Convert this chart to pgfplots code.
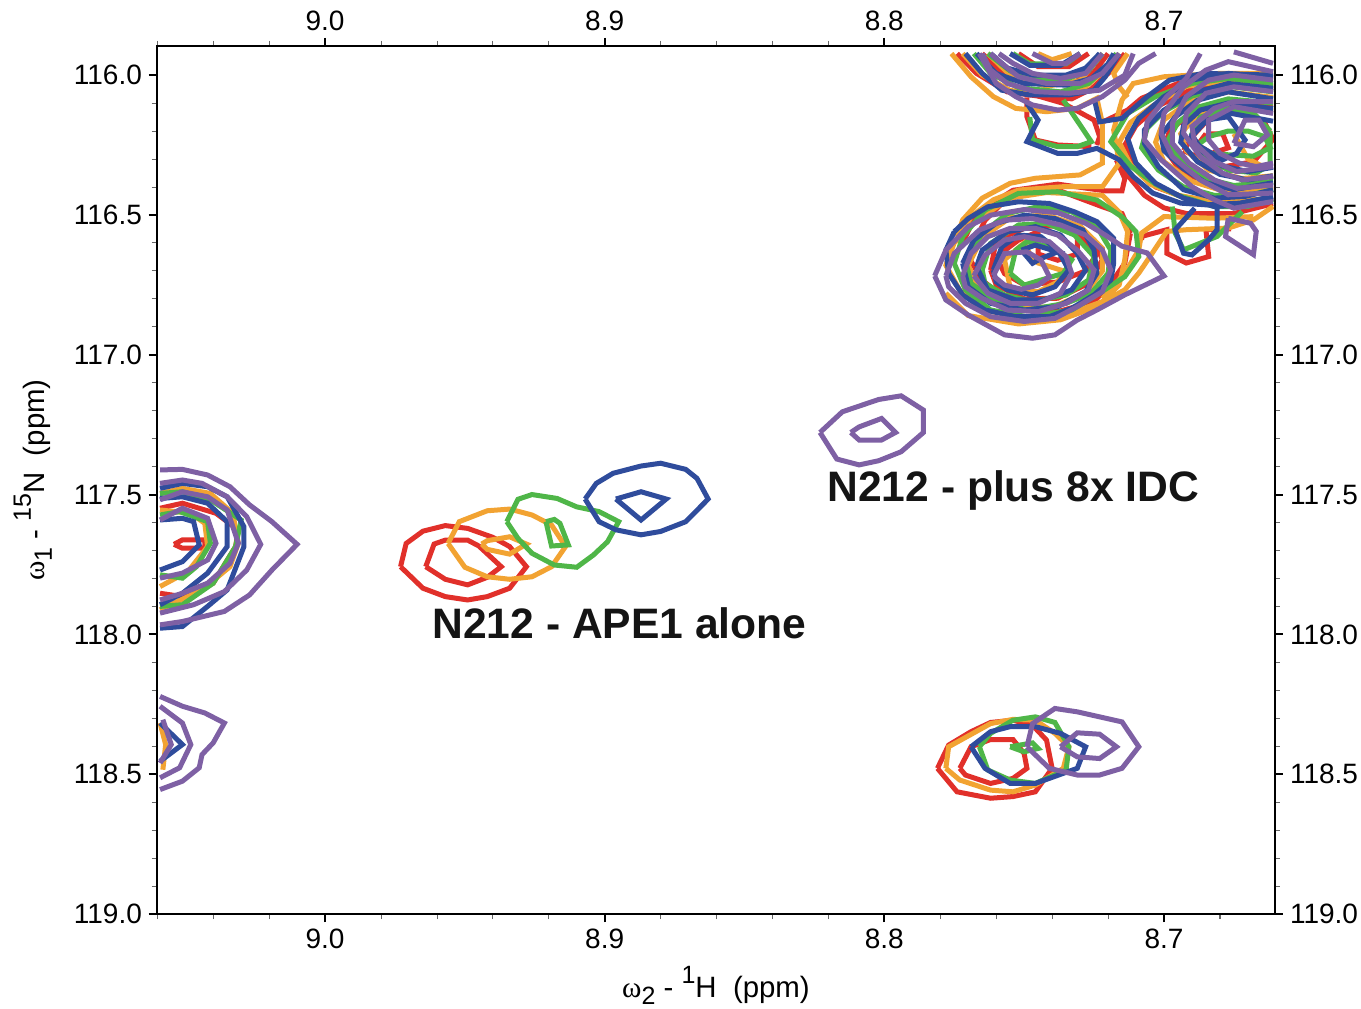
\documentclass[border=0pt]{standalone}
\usepackage{fontspec}
\setmainfont{Liberation Sans}
\newfontfamily\lserif{Liberation Serif}
\usepackage{pgfplots}
\pgfplotsset{compat=1.18}
\definecolor{cR}{HTML}{E1302A}
\definecolor{cO}{HTML}{F2A332}
\definecolor{cG}{HTML}{4FB648}
\definecolor{cB}{HTML}{2F4C9C}
\definecolor{cP}{HTML}{7E60A4}
\newcommand{\subs}[1]{\raisebox{-3.5pt}{\fontsize{12.5}{13}\selectfont #1}}
\newcommand{\sups}[1]{\raisebox{7pt}{\fontsize{12.5}{13}\selectfont #1}}
\pgfplotsset{
  nmr/.style={
    scale only axis, width=559pt, height=434pt,
    at={(0,0)}, anchor=south west,
    x dir=reverse, y dir=reverse,
    xmin=8.6603, xmax=9.0601, ymin=115.896, ymax=119,
    xtick={8.7,8.8,8.9,9.0}, ytick={116,116.5,117,117.5,118,118.5,119},
    minor xtick={8.66,8.68,8.70,8.72,8.74,8.76,8.78,8.80,8.82,8.84,8.86,8.88,8.90,8.92,8.94,8.96,8.98,9.00,9.02,9.04,9.06},
    minor ytick={116,116.1,116.2,116.3,116.4,116.6,116.7,116.8,116.9,117.1,117.2,117.3,117.4,117.6,117.7,117.8,117.9,118.1,118.2,118.3,118.4,118.6,118.7,118.8,118.9},
    tick align=outside,
    major tick length=4pt, minor tick length=2.5pt,
    major tick style={black,line width=1pt},
    minor tick style={black!60,line width=0.4pt},
    axis line style={black,line width=1.1pt},
    tick label style={font=\fontsize{14}{16}\selectfont},
    /pgf/number format/assume math mode=true,
    /pgf/number format/fixed, /pgf/number format/fixed zerofill, /pgf/number format/precision=1,
    every axis plot/.append style={line width=2.5pt,no markers,line join=miter,miter limit=6},
  }
}
\begin{document}
\begin{tikzpicture}
\path[use as bounding box] (-78.5pt,-47pt) rectangle (602.0pt,457pt);
\begin{axis}[nmr,
  xlabel={{\lserif ω}\subs{2} - \sups{1}H\ \ (ppm)},
  ylabel={{\lserif ω}\subs{1} - \sups{15}N\ \ (ppm)},
  label style={font=\fontsize{14.7}{16}\selectfont},
  xlabel style={at={(axis description cs:0.5,0)},anchor=base,yshift=-41.5pt},
  ylabel style={at={(axis description cs:0,0.5)},anchor=base,yshift=56pt},
]
% ---------- RED
\addplot[cR] coordinates {(8.772,116.600)(8.767,116.495)(8.754,116.412)(8.738,116.390)(8.721,116.414)(8.715,116.414)(8.714,116.370)(8.717,116.304)(8.712,116.37)(8.707,116.43)(8.700,116.475)(8.692,116.495)(8.675,116.495)(8.661,116.46)};
\addplot[cR] coordinates {(8.712,116.566)(8.714,116.673)(8.719,116.745)(8.725,116.810)(8.738,116.846)(8.752,116.840)(8.765,116.733)(8.770,116.649)(8.764,116.519)(8.755,116.429)(8.738,116.411)(8.722,116.471)(8.715,116.495)(8.712,116.566)};
\addplot[cR] coordinates {(8.762,116.697)(8.760,116.590)(8.748,116.540)(8.735,116.540)(8.725,116.590)(8.722,116.660)(8.727,116.745)(8.738,116.798)(8.750,116.800)(8.760,116.750)(8.762,116.697)};
\addplot[cR] coordinates {(8.760,116.650)(8.752,116.590)(8.745,116.560)(8.745,116.640)(8.738,116.662)(8.731,116.640)(8.731,116.566)(8.724,116.640)(8.728,116.700)(8.738,116.740)(8.750,116.750)(8.757,116.710)(8.760,116.650)};
\addplot[cR] coordinates {(8.708,116.590)(8.708,116.577)(8.699,116.553)(8.699,116.637)(8.692,116.672)(8.684,116.649)(8.685,116.553)(8.676,116.55)};
\addplot[cR] coordinates {(8.749,116.08)(8.749,116.149)(8.746,116.232)(8.738,116.250)(8.726,116.256)};
\addplot[cR] coordinates {(8.724,116.25)(8.723,116.22)(8.725,116.161)(8.736,116.101)(8.745,116.075)};
\addplot[cR] coordinates {(8.723,116.173)(8.713,116.125)(8.708,116.083)(8.695,116.03)(8.68,116.00)(8.661,116.01)};
\addplot[cR] coordinates {(8.774,115.923)(8.767,115.994)(8.756,116.060)(8.745,116.075)(8.733,116.085)(8.726,116.050)(8.719,115.985)(8.714,115.923)};
\addplot[cR] coordinates {(8.765,115.923)(8.757,116.000)(8.745,116.030)(8.733,116.030)(8.725,115.990)(8.720,115.923)};
\addplot[cR] coordinates {(8.752,115.923)(8.745,115.970)(8.734,115.970)(8.727,115.923)};
\addplot[cR] coordinates {(8.661,116.05)(8.677,116.03)(8.690,116.05)(8.702,116.11)(8.710,116.18)(8.714,116.25)(8.710,116.33)(8.703,116.40)(8.692,116.44)(8.680,116.46)(8.661,116.44)};
\addplot[cR] coordinates {(8.661,116.11)(8.677,116.10)(8.690,116.13)(8.698,116.20)(8.700,116.26)(8.695,116.33)(8.685,116.39)(8.672,116.41)(8.661,116.40)};
\addplot[cR] coordinates {(8.693,116.27)(8.689,116.21)(8.682,116.135)(8.672,116.125)(8.664,116.17)(8.661,116.23)(8.668,116.31)(8.680,116.33)(8.693,116.27)};
\addplot[cR] coordinates {(8.685,116.21)(8.679,116.21)(8.677,116.26)(8.683,116.28)(8.688,116.25)(8.685,116.21)};
\addplot[cR] coordinates {(9.059,117.549)(9.051,117.531)(9.039,117.567)(9.031,117.627)(9.032,117.686)(9.040,117.817)(9.051,117.865)(9.059,117.853)};
\addplot[cR] coordinates {(9.054,117.678)(9.051,117.662)(9.043,117.662)(9.043,117.692)(9.051,117.692)(9.054,117.678)};
\addplot[cR] coordinates {(8.973,117.758)(8.971,117.675)(8.965,117.631)(8.957,117.611)(8.949,117.621)(8.940,117.653)(8.934,117.686)(8.928,117.758)(8.934,117.835)(8.942,117.865)(8.949,117.877)(8.957,117.865)(8.965,117.835)(8.973,117.758)};
\addplot[cR] coordinates {(8.964,117.758)(8.961,117.677)(8.957,117.663)(8.949,117.663)(8.945,117.684)(8.937,117.758)(8.942,117.796)(8.949,117.823)(8.957,117.803)(8.964,117.758)};
\addplot[cR] coordinates {(8.781,118.479)(8.777,118.396)(8.769,118.348)(8.762,118.315)(8.754,118.307)(8.747,118.325)(8.742,118.378)(8.740,118.479)(8.746,118.563)(8.754,118.580)(8.762,118.586)(8.774,118.563)(8.781,118.479)};
\addplot[cR] coordinates {(8.773,118.479)(8.769,118.402)(8.762,118.376)(8.754,118.376)(8.750,118.426)(8.749,118.479)(8.754,118.515)(8.762,118.533)(8.771,118.503)(8.773,118.479)};
% ---------- ORANGE
\addplot[cO] coordinates {(8.776,115.923)(8.769,116.006)(8.761,116.077)(8.753,116.119)(8.742,116.131)(8.731,116.119)(8.724,116.083)(8.722,116.173)(8.722,116.315)(8.730,116.357)(8.746,116.369)(8.755,116.387)(8.765,116.440)(8.772,116.518)(8.774,116.577)};
\addplot[cO] coordinates {(8.774,116.60)(8.769,116.506)(8.761,116.446)(8.752,116.411)(8.736,116.399)(8.722,116.399)(8.716,116.315)(8.718,116.196)(8.715,116.089)(8.711,116.030)(8.700,116.006)(8.680,115.994)(8.661,115.994)};
\addplot[cO] coordinates {(8.661,116.470)(8.668,116.518)(8.677,116.547)(8.692,116.553)(8.699,116.559)(8.705,116.649)(8.709,116.708)(8.714,116.768)(8.727,116.839)(8.737,116.875)(8.752,116.890)(8.770,116.860)(8.778,116.78)};
\addplot[cO] coordinates {(8.668,116.506)(8.682,116.512)(8.700,116.506)(8.708,116.565)(8.709,116.625)(8.714,116.708)(8.722,116.80)};
\addplot[cO] coordinates {(8.775,116.60)(8.767,116.52)(8.755,116.44)(8.742,116.42)(8.722,116.43)(8.716,116.49)(8.713,116.56)(8.714,116.66)(8.716,116.75)(8.722,116.81)(8.733,116.85)(8.748,116.87)(8.765,116.84)(8.773,116.77)(8.778,116.68)(8.775,116.60)};
\addplot[cO] coordinates {(8.770,116.68)(8.765,116.58)(8.755,116.51)(8.742,116.50)(8.730,116.54)(8.722,116.62)(8.722,116.70)(8.728,116.78)(8.740,116.83)(8.752,116.83)(8.765,116.79)(8.770,116.68)};
\addplot[cO] coordinates {(8.757,116.66)(8.750,116.60)(8.748,116.64)(8.745,116.672)(8.736,116.70)(8.738,116.74)(8.745,116.775)(8.755,116.76)(8.757,116.66)};
\addplot[cO] coordinates {(8.772,115.923)(8.765,116.000)(8.755,116.055)(8.741,116.07)(8.729,116.05)(8.722,115.99)(8.716,115.923)};
\addplot[cO] coordinates {(8.713,115.923)(8.718,115.994)(8.716,116.042)(8.713,116.08)};
\addplot[cO] coordinates {(8.763,115.923)(8.755,116.000)(8.742,116.040)(8.730,116.020)(8.722,115.923)};
\addplot[cO] coordinates {(8.745,115.923)(8.740,115.945)(8.733,115.923)};
\addplot[cO] coordinates {(8.661,116.04)(8.677,116.02)(8.692,116.04)(8.704,116.11)(8.712,116.17)(8.716,116.24)(8.712,116.32)(8.705,116.39)(8.695,116.43)(8.680,116.455)(8.661,116.44)};
\addplot[cO] coordinates {(8.661,116.08)(8.677,116.06)(8.690,116.09)(8.700,116.16)(8.703,116.24)(8.700,116.31)(8.690,116.38)(8.677,116.42)(8.661,116.40)};
\addplot[cO] coordinates {(8.661,116.13)(8.677,116.11)(8.688,116.14)(8.694,116.21)(8.692,116.27)(8.684,116.34)(8.672,116.37)(8.661,116.36)};
\addplot[cO] coordinates {(8.675,116.21)(8.670,116.30)(8.664,116.33)};
\addplot[cO] coordinates {(9.059,117.829)(9.049,117.775)(9.042,117.686)(9.043,117.603)(9.048,117.567)(9.059,117.555)};
\addplot[cO] coordinates {(9.059,117.912)(9.044,117.841)(9.034,117.758)(9.031,117.674)(9.033,117.567)(9.041,117.496)(9.051,117.478)(9.059,117.496)};
\addplot[cO] coordinates {(9.059,118.317)(9.057,118.394)(9.058,118.484)};
\addplot[cO] coordinates {(8.956,117.675)(8.952,117.597)(8.942,117.558)(8.934,117.552)(8.926,117.573)(8.919,117.609)(8.914,117.686)(8.919,117.758)(8.926,117.794)(8.934,117.803)(8.942,117.794)(8.950,117.760)(8.956,117.675)};
\addplot[cO] coordinates {(8.944,117.677)(8.942,117.665)(8.934,117.651)(8.928,117.677)(8.934,117.713)(8.942,117.696)(8.944,117.677)};
\addplot[cO] coordinates {(8.778,118.479)(8.777,118.402)(8.762,118.319)(8.754,118.304)(8.746,118.307)(8.739,118.354)(8.734,118.402)(8.736,118.479)(8.746,118.539)(8.754,118.563)(8.762,118.557)(8.773,118.521)(8.778,118.479)};
% ---------- GREEN
\addplot[cG] coordinates {(8.772,116.578)(8.764,116.483)(8.752,116.423)(8.738,116.417)(8.724,116.447)(8.715,116.507)(8.710,116.560)(8.709,116.649)(8.714,116.721)(8.724,116.786)(8.733,116.840)(8.749,116.864)(8.762,116.840)(8.771,116.768)(8.775,116.673)(8.772,116.578)};
\addplot[cG] coordinates {(8.771,116.661)(8.765,116.566)(8.756,116.495)(8.745,116.471)(8.733,116.489)(8.724,116.542)(8.719,116.626)(8.720,116.709)(8.726,116.780)(8.735,116.816)(8.749,116.840)(8.760,116.810)(8.769,116.745)(8.771,116.661)};
\addplot[cG] coordinates {(8.765,116.697)(8.762,116.602)(8.752,116.536)(8.742,116.530)(8.732,116.572)(8.725,116.649)(8.727,116.733)(8.735,116.786)(8.747,116.810)(8.757,116.786)(8.764,116.745)(8.765,116.697)};
\addplot[cG] coordinates {(8.755,116.709)(8.753,116.626)(8.749,116.596)(8.741,116.614)(8.733,116.661)(8.736,116.709)(8.740,116.721)(8.750,116.751)(8.755,116.709)};
\addplot[cG] coordinates {(8.697,116.470)(8.696,116.565)(8.693,116.625)(8.681,116.577)(8.672,116.488)};
\addplot[cG] coordinates {(8.748,116.15)(8.747,116.232)(8.738,116.256)(8.731,116.256)(8.726,116.238)(8.736,116.089)};
\addplot[cG] coordinates {(8.768,115.923)(8.762,115.994)(8.752,116.045)(8.737,116.060)(8.727,116.030)(8.722,115.985)(8.717,115.923)};
\addplot[cG] coordinates {(8.763,115.923)(8.755,115.985)(8.745,116.015)(8.735,116.015)(8.727,115.985)(8.722,115.923)};
\addplot[cG] coordinates {(8.754,115.923)(8.748,115.96)(8.735,115.96)(8.730,115.923)};
\addplot[cG] coordinates {(8.661,116.030)(8.677,116.012)(8.690,116.030)(8.703,116.077)(8.713,116.137)(8.719,116.238)(8.712,116.325)(8.703,116.390)(8.695,116.430)(8.682,116.470)(8.670,116.470)(8.661,116.445)};
\addplot[cG] coordinates {(8.661,116.060)(8.677,116.040)(8.690,116.075)(8.700,116.130)(8.706,116.190)(8.708,116.260)(8.702,116.340)(8.693,116.400)(8.682,116.430)(8.670,116.430)(8.661,116.410)};
\addplot[cG] coordinates {(8.661,116.100)(8.677,116.085)(8.688,116.115)(8.695,116.170)(8.699,116.240)(8.694,116.305)(8.685,116.370)(8.675,116.395)(8.661,116.380)};
\addplot[cG] coordinates {(8.662,116.200)(8.668,116.135)(8.677,116.120)(8.687,116.150)(8.690,116.210)(8.687,116.280)(8.677,116.340)(8.667,116.350)(8.662,116.320)(8.662,116.200)};
\addplot[cG] coordinates {(8.684,116.22)(8.677,116.20)(8.670,116.20)(8.664,116.22)(8.662,116.26)(8.668,116.29)(8.677,116.285)(8.684,116.28)(8.688,116.25)(8.684,116.22)};
\addplot[cG] coordinates {(9.059,117.496)(9.051,117.490)(9.041,117.519)(9.030,117.591)(9.032,117.686)(9.040,117.817)(9.051,117.894)(9.059,117.900)};
\addplot[cG] coordinates {(9.059,117.573)(9.052,117.561)(9.042,117.597)(9.041,117.674)(9.046,117.758)(9.051,117.799)(9.059,117.787)};
\addplot[cG] coordinates {(8.935,117.597)(8.931,117.517)(8.926,117.500)(8.917,117.514)(8.910,117.544)(8.902,117.561)(8.895,117.597)(8.899,117.669)(8.904,117.716)(8.910,117.760)(8.918,117.752)(8.926,117.710)(8.931,117.657)(8.935,117.597)};
\addplot[cG] coordinates {(8.921,117.597)(8.918,117.589)(8.916,117.603)(8.913,117.680)(8.919,117.684)(8.921,117.597)};
\addplot[cG] coordinates {(8.766,118.402)(8.762,118.354)(8.754,118.307)(8.746,118.295)(8.739,118.315)(8.734,118.402)(8.735,118.485)(8.746,118.533)(8.755,118.521)(8.763,118.485)(8.766,118.402)};
\addplot[cG] coordinates {(8.755,118.402)(8.747,118.388)(8.745,118.408)(8.750,118.420)(8.755,118.402)};
% ---------- BLUE
\addplot[cB] coordinates {(8.775,116.560)(8.770,116.513)(8.763,116.471)(8.752,116.453)(8.741,116.459)(8.732,116.489)(8.724,116.524)(8.718,116.584)(8.718,116.673)(8.719,116.733)(8.725,116.786)(8.733,116.834)(8.741,116.864)(8.753,116.864)(8.764,116.840)(8.772,116.786)(8.777,116.709)(8.778,116.626)(8.775,116.560)};
\addplot[cB] coordinates {(8.772,116.673)(8.768,116.590)(8.760,116.530)(8.750,116.501)(8.739,116.513)(8.729,116.554)(8.725,116.626)(8.724,116.709)(8.728,116.774)(8.738,116.828)(8.750,116.840)(8.762,116.816)(8.770,116.757)(8.772,116.673)};
\addplot[cB] coordinates {(8.767,116.685)(8.765,116.626)(8.756,116.560)(8.746,116.542)(8.737,116.572)(8.731,116.638)(8.728,116.697)(8.733,116.768)(8.743,116.804)(8.753,116.804)(8.763,116.768)(8.767,116.685)};
\addplot[cB] coordinates {(8.761,116.697)(8.758,116.614)(8.752,116.572)(8.744,116.578)(8.738,116.626)(8.734,116.697)(8.739,116.757)(8.747,116.786)(8.756,116.768)(8.760,116.739)(8.761,116.697)};
\addplot[cB] coordinates {(8.751,116.626)(8.746,116.608)(8.738,116.632)(8.744,116.656)(8.747,116.673)(8.751,116.626)};
\addplot[cB] coordinates {(8.689,116.476)(8.696,116.553)(8.693,116.637)(8.690,116.643)(8.684,116.589)(8.681,116.553)(8.681,116.476)};
\addplot[cB] coordinates {(8.749,116.101)(8.745,116.161)(8.749,116.238)(8.738,116.280)(8.731,116.280)(8.724,116.262)(8.716,116.303)(8.711,116.363)(8.704,116.422)(8.694,116.458)(8.685,116.464)(8.673,116.458)(8.661,116.434)};
\addplot[cB] coordinates {(8.725,116.083)(8.723,116.167)(8.715,116.155)(8.706,116.077)(8.698,116.018)(8.686,115.994)(8.661,116.000)};
\addplot[cB] coordinates {(8.771,115.923)(8.765,115.994)(8.758,116.054)(8.748,116.071)(8.734,116.071)(8.725,116.054)(8.721,116.006)(8.716,115.923)};
\addplot[cB] coordinates {(8.767,115.923)(8.760,115.994)(8.750,116.030)(8.735,116.036)(8.726,116.012)(8.720,115.960)(8.718,115.923)};
\addplot[cB] coordinates {(8.762,115.923)(8.756,115.975)(8.747,116.000)(8.735,116.000)(8.728,115.975)(8.723,115.923)};
\addplot[cB] coordinates {(8.755,115.923)(8.748,115.965)(8.737,115.965)(8.730,115.923)};
\addplot[cB] coordinates {(8.661,116.006)(8.677,115.994)(8.690,116.018)(8.700,116.077)(8.709,116.155)(8.713,116.226)(8.710,116.315)(8.703,116.387)(8.693,116.440)(8.682,116.470)(8.671,116.464)(8.661,116.440)};
\addplot[cB] coordinates {(8.661,116.047)(8.677,116.030)(8.690,116.065)(8.700,116.125)(8.707,116.196)(8.707,116.244)(8.702,116.327)(8.693,116.410)(8.682,116.440)(8.671,116.434)(8.661,116.410)};
\addplot[cB] coordinates {(8.661,116.085)(8.677,116.060)(8.688,116.090)(8.696,116.150)(8.701,116.215)(8.700,116.270)(8.693,116.335)(8.685,116.385)(8.675,116.410)(8.661,116.385)};
\addplot[cB] coordinates {(8.661,116.120)(8.677,116.100)(8.687,116.125)(8.693,116.180)(8.694,116.240)(8.688,116.310)(8.680,116.355)(8.670,116.375)(8.661,116.360)};
\addplot[cB] coordinates {(8.661,116.165)(8.677,116.135)(8.685,116.165)(8.690,116.215)(8.686,116.275)(8.679,116.325)(8.670,116.345)(8.661,116.330)};
\addplot[cB] coordinates {(8.691,116.232)(8.685,116.161)(8.677,116.149)(8.671,116.232)(8.674,116.28)(8.679,116.303)(8.691,116.232)};
\addplot[cB] coordinates {(9.059,117.978)(9.051,117.972)(9.042,117.900)(9.035,117.841)(9.029,117.686)(9.029,117.615)(9.035,117.508)(9.042,117.472)(9.051,117.460)(9.059,117.478)};
\addplot[cB] coordinates {(9.059,117.514)(9.051,117.508)(9.042,117.531)(9.035,117.597)(9.035,117.686)(9.042,117.781)(9.051,117.853)(9.059,117.894)};
\addplot[cB] coordinates {(9.059,117.591)(9.051,117.585)(9.047,117.597)(9.045,117.680)(9.051,117.740)(9.059,117.770)};
\addplot[cB] coordinates {(9.059,118.317)(9.051,118.394)(9.059,118.454)};
\addplot[cB] coordinates {(8.907,117.516)(8.903,117.460)(8.897,117.424)(8.887,117.398)(8.880,117.388)(8.871,117.410)(8.867,117.442)(8.863,117.516)(8.871,117.597)(8.880,117.632)(8.887,117.644)(8.896,117.626)(8.902,117.597)(8.907,117.516)};
\addplot[cB] coordinates {(8.896,117.516)(8.887,117.490)(8.878,117.516)(8.887,117.591)(8.896,117.516)};
\addplot[cB] coordinates {(8.769,118.402)(8.762,118.348)(8.755,118.330)(8.746,118.330)(8.737,118.354)(8.728,118.402)(8.731,118.479)(8.746,118.533)(8.755,118.533)(8.764,118.479)(8.769,118.402)};
% ---------- PURPLE
\addplot[cP] coordinates {(8.782,116.718)(8.778,116.626)(8.770,116.542)(8.762,116.501)(8.750,116.481)(8.738,116.492)(8.728,116.530)(8.721,116.572)(8.715,116.612)(8.706,116.636)(8.700,116.718)(8.714,116.786)(8.724,116.840)(8.731,116.876)(8.739,116.929)(8.747,116.941)(8.757,116.929)(8.770,116.858)(8.778,116.804)(8.782,116.718)};
\addplot[cP] coordinates {(8.778,116.718)(8.775,116.638)(8.766,116.554)(8.757,116.519)(8.747,116.513)(8.737,116.536)(8.728,116.572)(8.722,116.626)(8.719,116.697)(8.722,116.774)(8.731,116.828)(8.739,116.870)(8.750,116.881)(8.762,116.864)(8.771,116.816)(8.777,116.757)(8.778,116.718)};
\addplot[cP] coordinates {(8.772,116.718)(8.769,116.638)(8.763,116.578)(8.755,116.548)(8.746,116.548)(8.738,116.572)(8.731,116.626)(8.725,116.697)(8.727,116.768)(8.735,116.816)(8.745,116.846)(8.756,116.840)(8.765,116.798)(8.771,116.757)(8.772,116.718)};
\addplot[cP] coordinates {(8.768,116.718)(8.764,116.644)(8.757,116.590)(8.750,116.578)(8.741,116.596)(8.735,116.649)(8.733,116.709)(8.737,116.780)(8.745,116.816)(8.755,116.816)(8.763,116.780)(8.768,116.718)};
\addplot[cP] coordinates {(8.761,116.718)(8.757,116.638)(8.749,116.632)(8.744,116.661)(8.741,116.721)(8.745,116.751)(8.751,116.766)(8.757,116.751)(8.761,116.718)};
\addplot[cP] coordinates {(8.677,116.512)(8.678,116.577)(8.668,116.642)(8.667,116.559)(8.669,116.530)(8.677,116.512)};
\addplot[cP] coordinates {(8.703,115.923)(8.709,115.958)(8.714,116.018)(8.722,116.077)(8.731,116.119)(8.738,116.125)(8.747,116.107)(8.753,116.077)(8.760,116.030)(8.766,115.923)};
\addplot[cP] coordinates {(8.711,115.923)(8.714,116.000)(8.723,116.054)(8.734,116.065)(8.746,116.059)(8.756,116.030)(8.762,115.982)(8.765,115.923)};
\addplot[cP] coordinates {(8.716,115.923)(8.722,115.994)(8.730,116.030)(8.742,116.030)(8.752,116.006)(8.758,115.958)(8.762,115.923)};
\addplot[cP] coordinates {(8.722,115.923)(8.728,115.994)(8.737,116.012)(8.747,115.994)(8.754,115.958)(8.759,115.923)};
\addplot[cP] coordinates {(8.730,115.923)(8.735,115.958)(8.740,115.958)(8.747,115.923)};
\addplot[cP] coordinates {(8.687,115.923)(8.692,116.012)(8.699,116.077)(8.706,116.167)(8.707,116.232)(8.701,116.303)(8.690,116.399)(8.682,116.446)(8.675,116.476)(8.661,116.452)};
\addplot[cP] coordinates {(8.661,115.988)(8.677,115.952)(8.685,115.982)(8.693,116.042)(8.700,116.137)(8.701,116.208)(8.697,116.292)(8.687,116.375)(8.677,116.428)(8.661,116.422)};
\addplot[cP] coordinates {(8.661,116.018)(8.675,116.000)(8.684,116.018)(8.692,116.077)(8.697,116.172)(8.697,116.244)(8.691,116.315)(8.682,116.375)(8.674,116.405)(8.661,116.393)};
\addplot[cP] coordinates {(8.661,116.059)(8.675,116.042)(8.685,116.065)(8.692,116.137)(8.693,116.208)(8.687,116.292)(8.679,116.351)(8.672,116.375)(8.661,116.363)};
\addplot[cP] coordinates {(8.661,116.095)(8.675,116.095)(8.682,116.119)(8.690,116.184)(8.689,116.244)(8.682,116.309)(8.674,116.345)(8.661,116.327)};
\addplot[cP] coordinates {(8.661,116.137)(8.675,116.113)(8.684,116.161)(8.684,116.232)(8.680,116.280)(8.673,116.315)(8.667,116.327)(8.661,116.315)};
\addplot[cP] coordinates {(8.675,116.244)(8.671,116.161)(8.666,116.161)(8.663,116.214)(8.668,116.256)(8.675,116.244)};
\addplot[cP] coordinates {(8.675,115.917)(8.661,115.958)};
\addplot[cP] coordinates {(9.059,117.412)(9.051,117.410)(9.042,117.430)(9.034,117.472)(9.027,117.537)(9.019,117.597)(9.010,117.678)(9.019,117.770)(9.027,117.859)(9.036,117.918)(9.051,117.954)(9.059,117.966)};
\addplot[cP] coordinates {(9.059,117.460)(9.051,117.448)(9.044,117.460)(9.035,117.508)(9.028,117.579)(9.023,117.678)(9.028,117.770)(9.036,117.847)(9.047,117.894)(9.059,117.924)};
\addplot[cP] coordinates {(9.059,117.519)(9.051,117.490)(9.042,117.508)(9.035,117.555)(9.031,117.674)(9.034,117.746)(9.042,117.817)(9.051,117.853)(9.059,117.877)};
\addplot[cP] coordinates {(9.059,117.591)(9.051,117.549)(9.042,117.585)(9.039,117.674)(9.042,117.734)(9.051,117.781)(9.059,117.799)};
\addplot[cP] coordinates {(9.059,118.222)(9.051,118.257)(9.043,118.281)(9.036,118.317)(9.040,118.388)(9.044,118.430)(9.045,118.477)(9.051,118.525)(9.059,118.555)};
\addplot[cP] coordinates {(9.059,118.257)(9.051,118.317)(9.048,118.394)(9.052,118.477)(9.059,118.513)};
\addplot[cP] coordinates {(9.058,118.305)(9.055,118.394)(9.059,118.460)};
\addplot[cP] coordinates {(8.823,117.278)(8.815,117.204)(8.802,117.160)(8.794,117.147)(8.786,117.198)(8.786,117.278)(8.794,117.347)(8.802,117.379)(8.809,117.394)(8.817,117.373)(8.823,117.278)};
\addplot[cP] coordinates {(8.812,117.278)(8.809,117.258)(8.801,117.228)(8.796,117.278)(8.801,117.305)(8.809,117.305)(8.812,117.278)};
\addplot[cP] coordinates {(8.749,118.402)(8.747,118.319)(8.739,118.265)(8.731,118.277)(8.715,118.313)(8.709,118.402)(8.715,118.479)(8.723,118.503)(8.731,118.503)(8.741,118.479)(8.749,118.402)};
\addplot[cP] coordinates {(8.737,118.402)(8.731,118.352)(8.723,118.357)(8.717,118.402)(8.723,118.444)(8.731,118.438)(8.737,118.402)};
% ---------- labels
\node[anchor=base west,inner sep=0pt,font=\bfseries\fontsize{21.3}{23}\selectfont,text=black!92] at (axis cs:8.9617,118.015) {N212 - APE1 alone};
\node[anchor=base west,inner sep=0pt,font=\bfseries\fontsize{21.3}{23}\selectfont,text=black!92] at (axis cs:8.8205,117.525) {N212 - plus 8x IDC};
\end{axis}
\begin{axis}[nmr, xticklabel pos=upper, yticklabel pos=right, axis background/.style={fill=none}]
\addplot[draw=none,forget plot] coordinates {(8.7,116)(9.0,119)};
\end{axis}
\end{tikzpicture}
\end{document}
